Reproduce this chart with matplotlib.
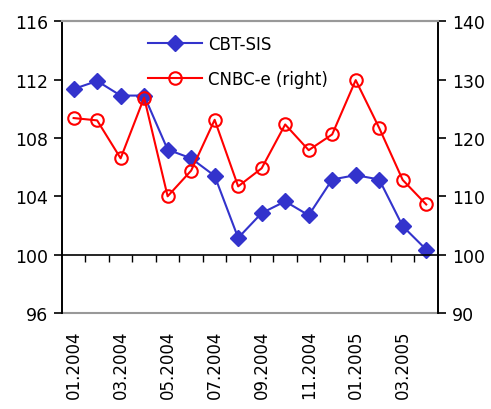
import numpy as np
import matplotlib
matplotlib.use('Agg')
import matplotlib.pyplot as plt
from matplotlib.ticker import FixedLocator, NullFormatter

months = ['01.2004', '02.2004', '03.2004', '04.2004', '05.2004', '06.2004',
          '07.2004', '08.2004', '09.2004', '10.2004', '11.2004', '12.2004',
          '01.2005', '02.2005', '03.2005', '04.2005']
cbt_sis = [111.35, 111.9, 110.9, 110.9, 107.2, 106.6, 105.4, 101.15,
           102.85, 103.65, 102.7, 105.15, 105.45, 105.15, 101.95, 100.35]
cnbc_e = [123.4, 123.0, 116.5, 126.9, 110.0, 114.4, 123.1, 111.7,
          114.8, 122.3, 117.9, 120.6, 129.9, 121.7, 112.8, 108.6]

plt.rcParams['font.family'] = 'DejaVu Sans'
plt.rcParams['font.size'] = 12

fig = plt.figure(figsize=(4.91, 4.10), dpi=100)
ax = fig.add_axes([0.126, 0.234, 0.766, 0.712])
ax2 = ax.twinx()

x = np.arange(len(months))
blue = '#3333cc'
red = '#ff0000'

l1, = ax.plot(x, cbt_sis, color=blue, lw=1.5, marker='D', ms=8,
              mfc=blue, mec=blue, label='CBT-SIS')
l2, = ax2.plot(x, cnbc_e, color=red, lw=1.5, marker='o', ms=9,
               mfc='none', mec=red, mew=1.5, label='CNBC-e (right)')

ax.set_xlim(-0.5, len(months) - 0.5)
ax.set_ylim(96, 116)
ax.set_yticks(np.arange(96, 117, 4))
ax2.set_ylim(90, 140)
ax2.set_yticks(np.arange(90, 141, 10))

# category axis crosses at 100
ax.spines['bottom'].set_position(('data', 100))
ax.spines['bottom'].set_linewidth(1.2)
ax.xaxis.set_major_locator(FixedLocator(np.arange(0.5, len(months) - 0.5, 1)))
ax.xaxis.set_major_formatter(NullFormatter())
ax.tick_params(axis='x', direction='out', length=5, width=1)

# labels along the bottom of the plot area
sec = ax.secondary_xaxis(0)
sec.set_xticks(x[::2])
sec.set_xticklabels(months[::2], rotation=90)
sec.tick_params(length=0, pad=12)
sec.spines['bottom'].set_color('#999999')
sec.spines['bottom'].set_linewidth(1.5)

for a in (ax, ax2):
    a.spines['top'].set_color('#999999')
    a.spines['top'].set_linewidth(1.5)
    a.spines['left'].set_linewidth(1.2)
    a.spines['right'].set_linewidth(1.2)
ax2.spines['bottom'].set_visible(False)
ax.tick_params(axis='y', direction='out', length=6, width=1.2, pad=4,
               labelsize=12.5)
ax2.tick_params(axis='y', direction='out', length=6, width=1.2, pad=4,
                labelsize=12.5)

ax2.legend([l1, l2], ['CBT-SIS', 'CNBC-e (right)'], loc='upper left',
           bbox_to_anchor=(0.19, 1.005), frameon=False, handlelength=3.2,
           labelspacing=1.05, handletextpad=0.4, fontsize=12)

fig.savefig('out.png', dpi=100)
